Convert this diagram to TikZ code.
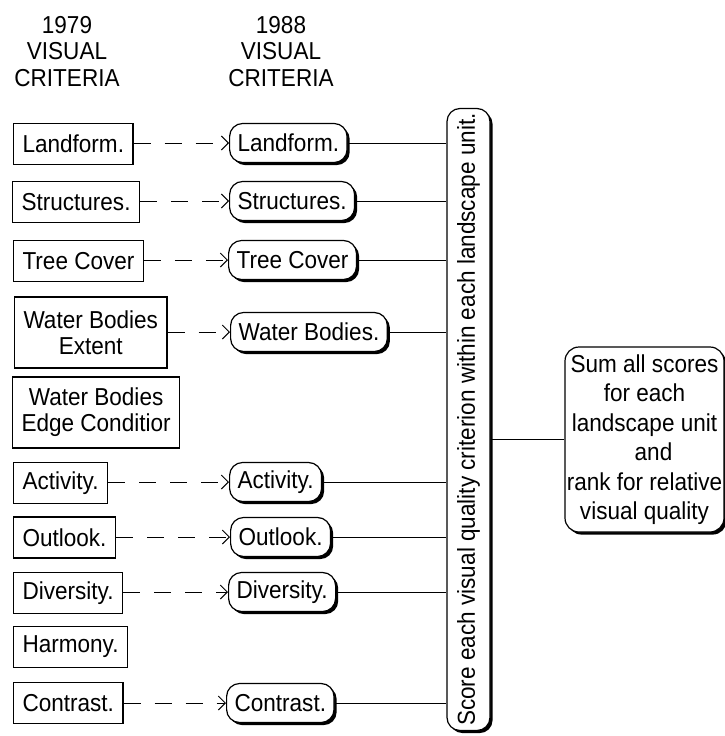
\documentclass[tikz,border=0pt]{standalone}
\usepackage{fontspec}
\setmainfont{Liberation Sans}[FakeStretch=0.92]
\usetikzlibrary{arrows.meta,shadows}
\begin{document}
\begin{tikzpicture}[x=1pt,y=-1pt,
  heading/.style={font=\fontsize{24.5}{26.5}\selectfont, align=center, inner sep=0pt},
  oldbox/.style={draw, line width=1.1pt, inner xsep=9pt, inner ysep=2pt,
    minimum height=41pt, anchor=west, align=center,
    font=\fontsize{24.5}{26}\selectfont},
  boxshadow/.style={drop shadow={shadow xshift=2.6pt, shadow yshift=-2.6pt,
    fill=black, opacity=1}},
  newbox/.style={draw, fill=white, line width=1.2pt, rounded corners=13pt,
    inner xsep=8pt, inner ysep=2pt, minimum height=39pt, anchor=west,
    font=\fontsize{24.5}{26}\selectfont, boxshadow},
  carry/.style={line width=0.9pt, dash pattern=on 17pt off 14pt,
    -{Straight Barb[length=7pt,width=14pt,line width=1pt]}},
  link/.style={line width=0.9pt}
]
\useasboundingbox (0,0) rectangle (725,736);

% column headings
\node[heading] (h1979) at (67,51.5) {1979\\VISUAL\\CRITERIA};
\node[heading] (h1988) at (281,51.5) {1988\\VISUAL\\CRITERIA};

% 1979 criteria
\node[oldbox] (o1)  at (13,144)   {Landform.};
\node[oldbox] (o2)  at (12,202)   {Structures.};
\node[oldbox] (o3)  at (13,261)   {Tree Cover};
\node[oldbox, minimum height=71pt] (o4) at (14,332.5) {Water Bodies\\Extent};
\node[oldbox, minimum height=71pt] (o5) at (12,412.5) {Water Bodies\\Edge Conditior};
\node[oldbox] (o6)  at (13,483)   {Activity.};
\node[oldbox] (o7)  at (13,537.5) {Outlook.};
\node[oldbox] (o8)  at (13,593)   {Diversity.};
\node[oldbox] (o9)  at (13,647)   {Harmony.};
\node[oldbox] (o10) at (13,703)   {Contrast.};

% 1988 criteria
\node[newbox] (n1) at (229,143) {Landform.};
\node[newbox] (n2) at (229,201) {Structures.};
\node[newbox] (n3) at (228,260) {Tree Cover};
\node[newbox] (n4) at (230,332) {Water Bodies.};
\node[newbox] (n6) at (229,482) {Activity.};
\node[newbox] (n7) at (230,537) {Outlook.};
\node[newbox] (n8) at (228,592) {Diversity.};
\node[newbox] (n10) at (226,703) {Contrast.};

% scoring bar
\node[draw, fill=white, line width=1.2pt, rounded corners=13pt, boxshadow,
  minimum width=43pt, minimum height=622pt, inner sep=0pt,
  font=\fontsize{24.5}{26}\selectfont] (score) at (468.5,419.5)
  {\rotatebox{90}{Score each visual quality criterion within each landscape unit.}};

% summary
\node[draw, fill=white, line width=1.2pt, rounded corners=14pt, boxshadow,
  minimum width=159pt, minimum height=185pt, inner sep=0pt, align=center,
  font=\fontsize{24.5}{29.5}\selectfont] (sum) at (644.5,439.5)
  {Sum all scores\\for each\hspace*{14pt}\\landscape unit\\\hspace*{18pt}and\\rank for relative\\visual quality};

% 1979 -> 1988 carry-over
\foreach \i in {1,2,3,4,6,7,8,10}
  \draw[carry] (o\i.east |- n\i.west) -- (n\i.west);

% 1988 criteria -> scoring
\foreach \i in {1,2,3,4,6,7,8,10}
  \draw[link] (n\i.east) -- (n\i.east -| score.west);

% scoring -> summary
\draw[link] (sum.west -| score.east) -- (sum.west);
\end{tikzpicture}
\end{document}
